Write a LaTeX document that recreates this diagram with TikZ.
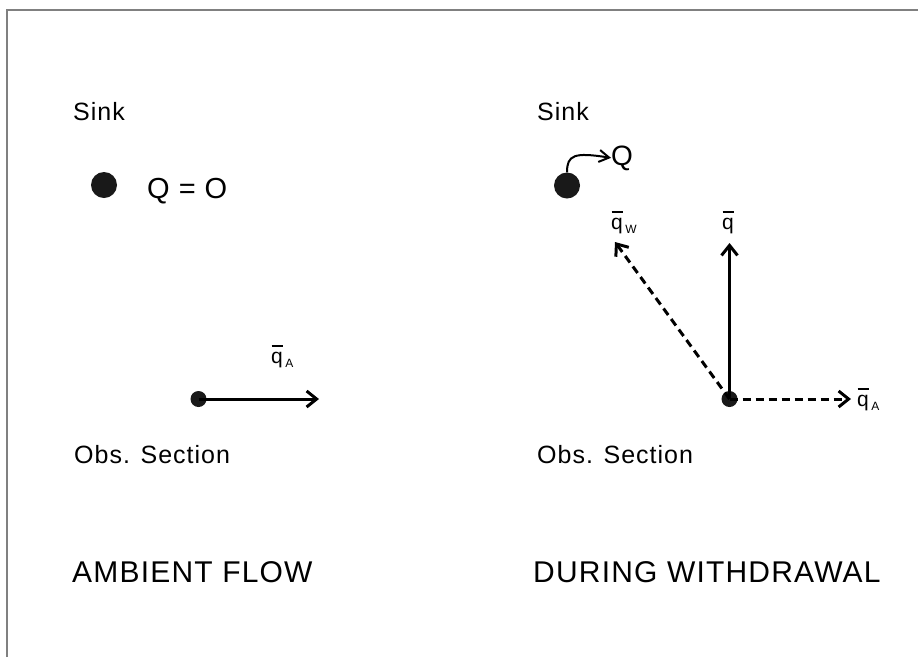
\documentclass[tikz,border=0pt]{standalone}
\usepackage{fontspec}
\setmainfont{Liberation Sans}
\newfontfamily\spacedfont[LetterSpace=4]{Liberation Sans}
\usetikzlibrary{arrows.meta}
\newcommand\myq[1]{{\fontsize{21}{21}\selectfont\rlap{\raisebox{16.5pt}{\kern0.5pt\rule{11pt}{1.6pt}}}q\kern2.5pt\raisebox{-4pt}{\spacedfont\fontsize{12}{12}\selectfont #1}}}
\begin{document}
\begin{tikzpicture}[x=1pt,y=-1pt,
  lbl/.style={inner sep=0pt, anchor=base west},
  small/.style={font=\spacedfont\fontsize{25}{25}\selectfont},
  big/.style={font=\spacedfont\fontsize{30}{30}\selectfont},
  bigdot/.style={circle, fill=black!90, minimum size=26pt, inner sep=0pt},
  smalldot/.style={circle, fill=black!90, minimum size=16pt, inner sep=0pt},
  arr/.style={line width=3pt, -{Straight Barb[length=10pt,width=16pt]}},
  darr/.style={arr, dash pattern=on 8pt off 5pt},
  thinarr/.style={line width=2pt, -{Straight Barb[length=10pt,width=12pt]}}]
\useasboundingbox (0,0) rectangle (918,657);
\draw[gray, line width=2pt] (7,657) -- (7,10) -- (918,10);
% left panel
\node[lbl, small] (sinkL) at (73,120) {Sink};
\node[bigdot] (sL) at (104,185) {};
\node[lbl, font=\fontsize{29}{29}\selectfont] (QL) at (147,198) {Q\hspace{9pt}=\hspace{9pt}O};
\node[smalldot] (oL) at (198.5,399) {};
\coordinate (aL) at (319,399);
\draw[arr] (oL.center) -- (aL);
\node[lbl] (qAL) at (271,363) {\myq{A}};
\node[lbl, small] (obsL) at (74,463) {Obs. Section};
\node[lbl, big] (titleL) at (72,582) {AMBIENT FLOW};
% right panel
\node[lbl, small] (sinkR) at (537,120) {Sink};
\node[bigdot] (sR) at (567,185.5) {};
\node[lbl, font=\fontsize{28}{28}\selectfont] (QR) at (611,165) {Q};
\draw[thinarr] (sR.north) .. controls (567,155) and (574,152) .. (QR.west);
\node[smalldot] (oR) at (729.5,399) {};
\coordinate (tV) at (729.5,243);
\coordinate (tW) at (615,242);
\coordinate (tA) at (851,399);
\draw[arr] (oR.center) -- (tV);
\draw[darr] (oR.center) -- (tW);
\draw[darr] (oR.center) -- (tA);
\node[lbl] (qV) at (722,229) {\myq{}};
\node[lbl] (qW) at (611,229) {\myq{W}};
\node[lbl] (qAR) at (857,406) {\myq{A}};
\node[lbl, small] (obsR) at (537,463) {Obs. Section};
\node[lbl, big] (titleR) at (533,582) {DURING WITHDRAWAL};
\end{tikzpicture}
\end{document}
